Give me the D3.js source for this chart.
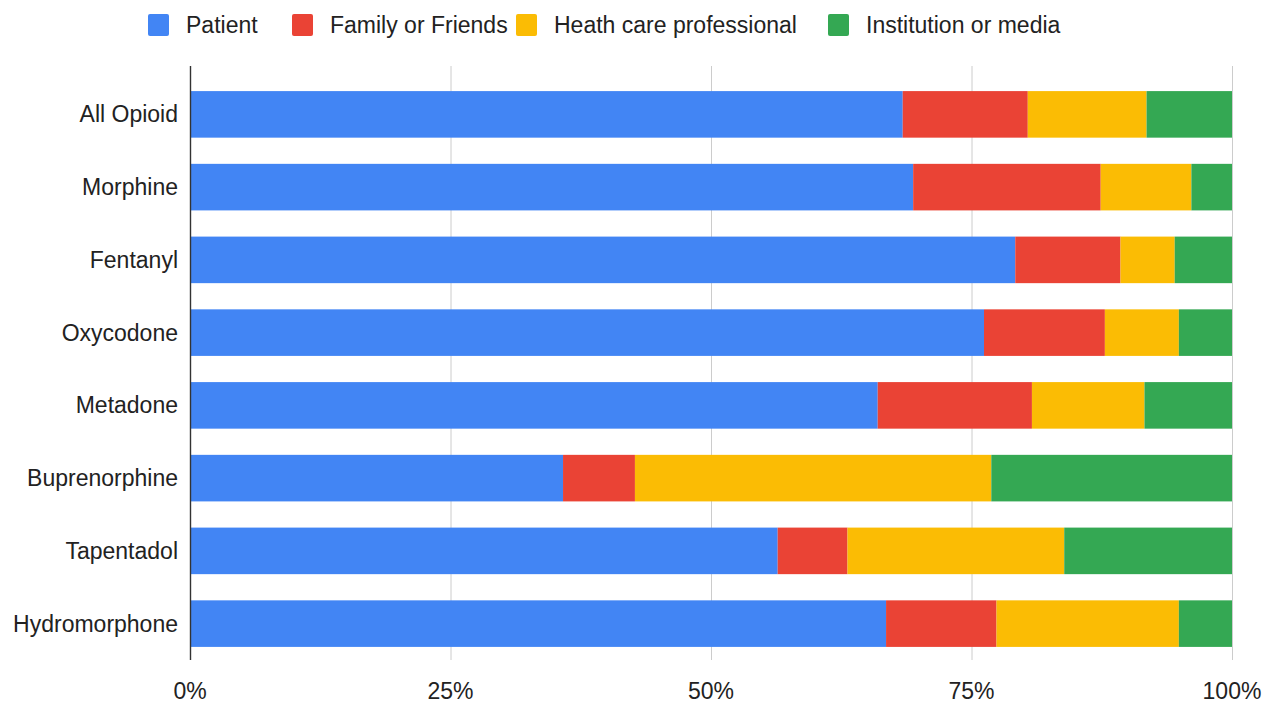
<!DOCTYPE html>
<html><head><meta charset="utf-8">
<script src="https://cdn.jsdelivr.net/npm/d3@7"></script>
<style>body{margin:0;background:#fff;} text{font-family:"Liberation Sans",Arial,sans-serif;fill:#222;}</style>
</head><body>
<svg id="c" width="1263" height="704"></svg>
<script>
const categories = ["All Opioid","Morphine","Fentanyl","Oxycodone","Metadone","Buprenorphine","Tapentadol","Hydromorphone"];
const seriesNames = ["Patient","Family or Friends","Heath care professional","Institution or media"];
const patient     = [68.4, 69.4, 79.2, 76.2, 66.0, 35.8, 56.4, 66.8];
const family      = [12.0, 18.0, 10.1, 11.6, 14.8,  6.9,  6.7, 10.6];
const healthcare  = [11.4,  8.7,  5.2,  7.1, 10.8, 34.2, 20.8, 17.5];
const institution = [ 8.2,  3.9,  5.5,  5.1,  8.4, 23.1, 16.1,  5.1];
const tickValues = [0, 25, 50, 75, 100];
const tickLabels = ["0%","25%","50%","75%","100%"];
const colors = ["#4285F4","#EA4335","#FBBC04","#34A853"];

const svg = d3.select("#c");
const x = d3.scaleLinear().domain([0,100]).range([190,1232]);
const y = d3.scaleBand().domain(categories).range([78,660]).paddingInner(0.36).paddingOuter(0.18);

const rows = categories.map((c,i)=>({cat:c, Patient:patient[i], "Family or Friends":family[i], "Heath care professional":healthcare[i], "Institution or media":institution[i]}));
const stack = d3.stack().keys(seriesNames)(rows);

// gridlines
svg.append("g").selectAll("line").data(tickValues.slice(1)).join("line")
  .attr("x1",d=>x(d)+0.5).attr("x2",d=>x(d)+0.5).attr("y1",66).attr("y2",660)
  .attr("stroke","#cccccc").attr("stroke-width",1);

// bars
svg.append("g").selectAll("g").data(stack).join("g")
  .attr("fill",(d,i)=>colors[i])
  .selectAll("rect").data(d=>d).join("rect")
  .attr("x",d=>x(d[0])).attr("width",d=>x(d[1])-x(d[0]))
  .attr("y",d=>y(d.data.cat)).attr("height",y.bandwidth());

// zero axis line
svg.append("line").attr("x1",x(0)+0.5).attr("x2",x(0)+0.5).attr("y1",66).attr("y2",660)
  .attr("stroke","#333").attr("stroke-width",1.4);

// y labels
svg.append("g").selectAll("text").data(categories).join("text")
  .attr("x",178).attr("y",d=>y(d)+y.bandwidth()/2).attr("dy","0.35em")
  .attr("text-anchor","end").attr("font-size",23).text(d=>d);

// x labels
svg.append("g").selectAll("text").data(tickValues).join("text")
  .attr("x",d=>x(d)).attr("y",699).attr("text-anchor","middle").attr("font-size",23)
  .text((d,i)=>tickLabels[i]);

// legend
const legX = [148, 292, 516, 828];
const lg = svg.append("g").selectAll("g").data(seriesNames).join("g")
  .attr("transform",(d,i)=>`translate(${legX[i]},14)`);
lg.append("rect").attr("width",21).attr("height",22).attr("rx",2).attr("fill",(d,i)=>colors[i]);
lg.append("text").attr("x",38).attr("y",11).attr("dy","0.35em").attr("font-size",23).text(d=>d);
</script>
</body></html>
